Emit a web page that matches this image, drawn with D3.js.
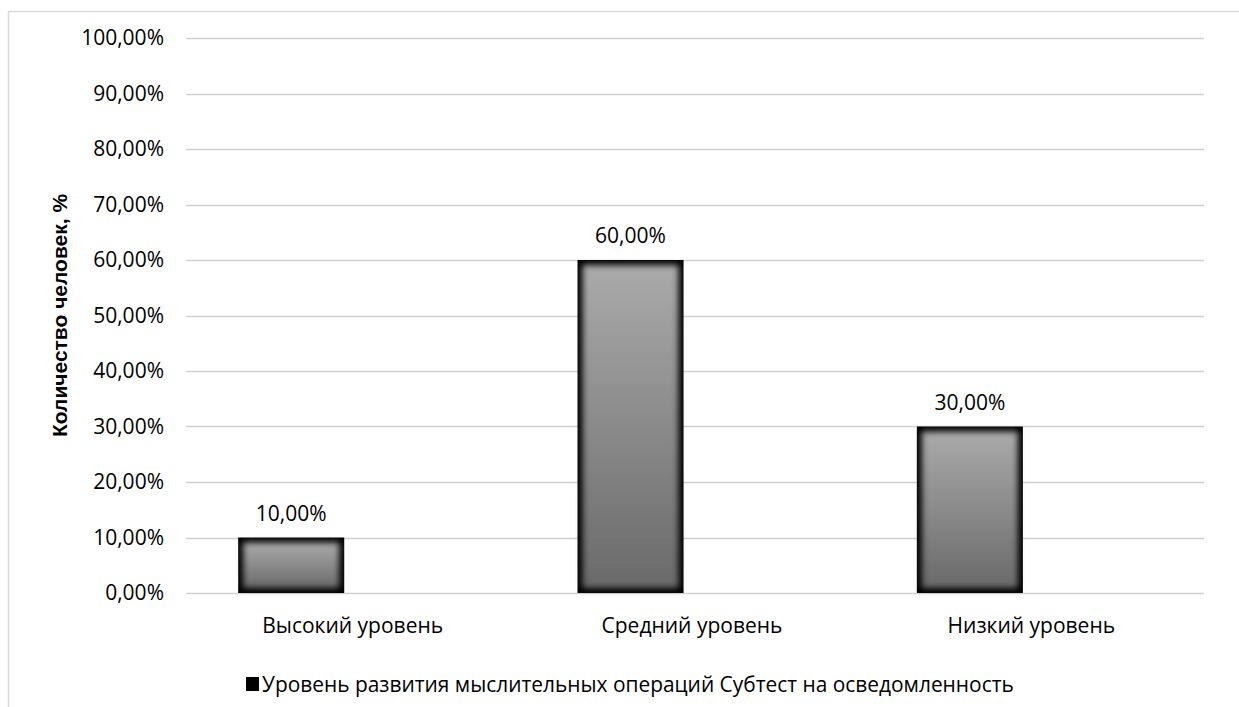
<!DOCTYPE html>
<html>
<head>
<meta charset="utf-8">
<script src="https://cdnjs.cloudflare.com/ajax/libs/d3/7.8.5/d3.min.js"></script>
<style>
    body { margin: 0; background: #ffffff; }
    text { font-family: "Open Sans", sans-serif; fill: #000; }
</style>
</head>
<body>
<script>

var categories = ["Высокий уровень", "Средний уровень", "Низкий уровень"];
var values = [0.10, 0.60, 0.30];
var seriesName = "Уровень развития мыслительных операций Субтест на осведомленность";
var yTicks = [0, 0.1, 0.2, 0.3, 0.4, 0.5, 0.6, 0.7, 0.8, 0.9, 1.0];
var yTitle = "Количество человек, %";

var width = 1239, height = 707;
var margin = {top: 38, right: 35, bottom: 114, left: 186};

var svg = d3.select("body").append("svg")
    .attr("width", width)
    .attr("height", height);

// chart frame (only top and left edge are in view)
svg.append("path")
    .attr("d", "M 8.5 707 L 8.5 11.5 L 1239 11.5")
    .attr("fill", "none")
    .attr("stroke", "#d9d9d9")
    .attr("stroke-width", 1.5);

var defs = svg.append("defs");
var grad = defs.append("linearGradient")
    .attr("id", "barGrad")
    .attr("x1", 0).attr("y1", 0)
    .attr("x2", 0).attr("y2", 1);
grad.append("stop").attr("offset", "0%").attr("stop-color", "#aaaaaa");
grad.append("stop").attr("offset", "100%").attr("stop-color", "#6a6a6a");

defs.append("filter")
    .attr("id", "soft")
    .attr("x", "-20%").attr("y", "-20%")
    .attr("width", "140%").attr("height", "140%")
    .append("feGaussianBlur")
    .attr("stdDeviation", 3);

var x = d3.scaleBand()
    .domain(categories)
    .range([margin.left, width - margin.right])
    .paddingInner(0)
    .paddingOuter(0);

// second (empty) slot in each cluster, as in the original chart
var xSub = d3.scaleBand()
    .domain([seriesName, ""])
    .range([0, x.bandwidth()])
    .paddingInner(0)
    .paddingOuter(0.6)
    .align(0.41);

var y = d3.scaleLinear()
    .domain([0, 1])
    .range([height - margin.bottom, margin.top]);

var fmt = function (v) { return d3.format(".2f")(v * 100).replace(".", ",") + "%"; };

// grid
svg.append("g").selectAll("line")
    .data(yTicks)
    .enter().append("line")
    .attr("x1", margin.left)
    .attr("x2", width - margin.right)
    .attr("y1", function (d) { return Math.round(y(d)) + 0.5; })
    .attr("y2", function (d) { return Math.round(y(d)) + 0.5; })
    .attr("stroke", "#d0d0d0")
    .attr("stroke-width", 1.5);

var yAxis = svg.append("g")
    .attr("transform", "translate(" + (margin.left - 22) + ",0)")
    .call(d3.axisLeft(y).tickValues(yTicks).tickFormat(fmt).tickSize(0));
yAxis.select(".domain").remove();
yAxis.selectAll("text")
    .attr("x", 0)
    .style("font-family", "Open Sans")
    .style("font-size", "21px")
    .attr("fill", "#000");

// bars
var bars = svg.append("g").selectAll("g")
    .data(values)
    .enter().append("g")
    .attr("transform", function (d, i) { return "translate(" + (x(categories[i]) + xSub(seriesName)) + "," + y(d) + ")"; });

bars.append("rect")
    .attr("width", xSub.bandwidth())
    .attr("height", function (d) { return y(0) - y(d); })
    .attr("fill", "#000");

bars.append("rect")
    .attr("x", 5)
    .attr("y", 5)
    .attr("width", xSub.bandwidth() - 10)
    .attr("height", function (d) { return Math.max(0, y(0) - y(d) - 10); })
    .attr("fill", "url(#barGrad)")
    .attr("filter", "url(#soft)");

svg.append("g").selectAll("text")
    .data(values)
    .enter().append("text")
    .attr("x", function (d, i) { return x(categories[i]) + xSub(seriesName) + xSub.bandwidth() / 2; })
    .attr("y", function (d) { return y(d) - 17; })
    .attr("text-anchor", "middle")
    .style("font-size", "21px")
    .text(function (d) { return fmt(d); });

// category labels
svg.append("g").selectAll("text")
    .data(categories)
    .enter().append("text")
    .attr("x", function (d) { return x(d) + x.bandwidth() / 2 - 3; })
    .attr("y", 633)
    .attr("text-anchor", "middle")
    .style("font-size", "21px")
    .text(function (d) { return d; });

// y title
svg.append("text")
    .attr("transform", "translate(67," + ((y(0) + y(1)) / 2) + ") rotate(-90)")
    .attr("text-anchor", "middle")
    .style("font-family", "Liberation Sans")
    .style("font-weight", "bold")
    .style("font-size", "21px")
    .text(yTitle);

// legend
var legend = svg.append("g").attr("transform", "translate(246,677)");
legend.append("rect")
    .attr("width", 13)
    .attr("height", 14)
    .attr("fill", "#000");
legend.append("text")
    .attr("x", 16)
    .attr("y", 15)
    .style("font-size", "20.9px")
    .text(seriesName);

</script>
</body>
</html>
